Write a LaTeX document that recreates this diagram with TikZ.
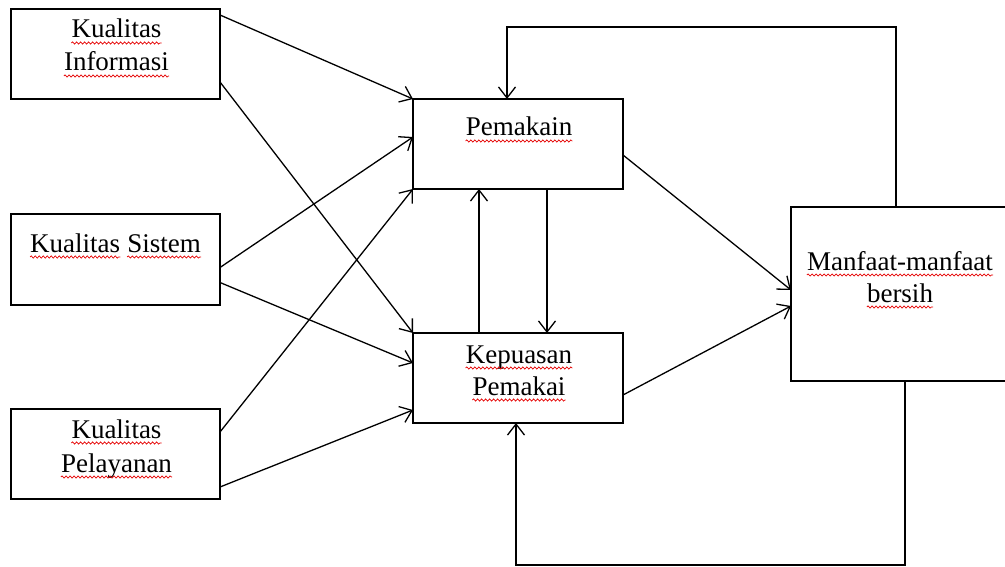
\documentclass[tikz,border=0pt]{standalone}
\usepackage{fontspec}
\setmainfont{Liberation Serif}
\usetikzlibrary{arrows.meta, calc, positioning, decorations.pathmorphing}
% garis gelombang merah di bawah sebuah node teks
\newcommand\ombak[1]{\draw[gelombang] ([yshift=-5pt]#1.base west) -- ([yshift=-5pt]#1.base east);}

\begin{document}
\begin{tikzpicture}[% styles used in image code
          x = 1pt, y = -1pt,
          > = {Straight Barb[length=11pt, width=17pt]},
 blok/.style = {draw, line width=1.3pt,
                minimum width=209pt, minimum height=90pt,
                inner sep=0pt, outer sep=0pt},
 teks/.style = {inner sep=0pt, anchor=base,
                font=\fontsize{27}{33}\selectfont},
panah/.style = {->, line width=1.3pt},
gelombang/.style = {draw=red!90!black, line width=0.7pt, decorate,
                    decoration={snake, amplitude=1.1pt, segment length=4pt}}
                    ]
	\useasboundingbox (0,0) rectangle (1005,567);

	% kotak variabel
	\node[blok] (info) at (115.5,54) {};
	\node[blok, minimum height=91pt] (sistem) at (115.5,259.5) {};
	\node[blok] (layan) at (115.5,454) {};
	\node[blok, minimum width=210pt] (pakai) at (518,144) {};
	\node[blok, minimum width=210pt] (puas) at (518,378) {};
	\node[blok, minimum width=216pt, minimum height=174pt] (manfaat) at (899,294) {};

	% teks di dalam kotak
	\node[teks] (info a) at ($(info.north)+(1,29)$) {Kualitas};
	\node[teks] (info b) at ($(info.north)+(1,62)$) {Informasi};
	\node[teks, anchor=base west] (sistem a) at ($(sistem.north)+(-85.5,38)$) {Kualitas};
	\node[teks, anchor=base west] (sistem b) at ([xshift=6.75pt]sistem a.base east) {Sistem};
	\node[teks] (layan a) at ($(layan.north)+(1,29)$) {Kualitas};
	\node[teks] (layan b) at ($(layan.north)+(1,63)$) {Pelayanan};
	\node[teks] (pakai a) at ($(pakai.north)+(1,37)$) {Pemakain};
	\node[teks] (puas a) at ($(puas.north)+(1,30)$) {Kepuasan};
	\node[teks] (puas b) at ($(puas.north)+(1,62)$) {Pemakai};
	\node[teks] (manfaat a) at ($(manfaat.north)+(1,63)$) {Manfaat-manfaat};
	\node[teks] (manfaat b) at ($(manfaat.north)+(1,95)$) {bersih};

	% garis merah (ejaan)
	\foreach \t in {info a, info b, sistem a, sistem b, layan a, layan b,
	                pakai a, puas a, puas b, manfaat a, manfaat b}
		{\ombak{\t}}

	% panah dari kualitas
	\draw[panah] ([yshift=-6pt]info.north east) -- (pakai.north west);
	\draw[panah] ([yshift=17pt]info.south east) -- (puas.north west);
	\draw[panah] ([yshift=-8pt]sistem.east) -- ([yshift=7pt]pakai.west);
	\draw[panah] ([yshift=-23pt]sistem.east) -- ([yshift=15pt]puas.west);
	\draw[panah] ([yshift=-23pt]layan.north east) -- (pakai.south west);
	\draw[panah] ([yshift=12pt]layan.south east) -- ([yshift=13pt]puas.south west);

	% pemakain <-> kepuasan
	\draw[panah] ([xshift=-39pt]puas.north) -- ([xshift=-39pt]pakai.south);
	\draw[panah] ([xshift=29pt]pakai.south) -- ([xshift=29pt]puas.north);

	% ke manfaat
	\draw[panah] ([yshift=-11pt]pakai.east) -- ([yshift=4pt]manfaat.west);
	\draw[panah] ([yshift=-17pt]puas.east) -- ([yshift=-12pt]manfaat.west);

	% umpan balik
	\draw[panah] ([xshift=-3pt]manfaat.north) -- ++(0,-180) -| ([xshift=-11pt]pakai.north);
	\draw[panah] ([xshift=6pt]manfaat.south) -- ++(0,184) -| ([xshift=-2pt]puas.south);
\end{tikzpicture}
\end{document}
